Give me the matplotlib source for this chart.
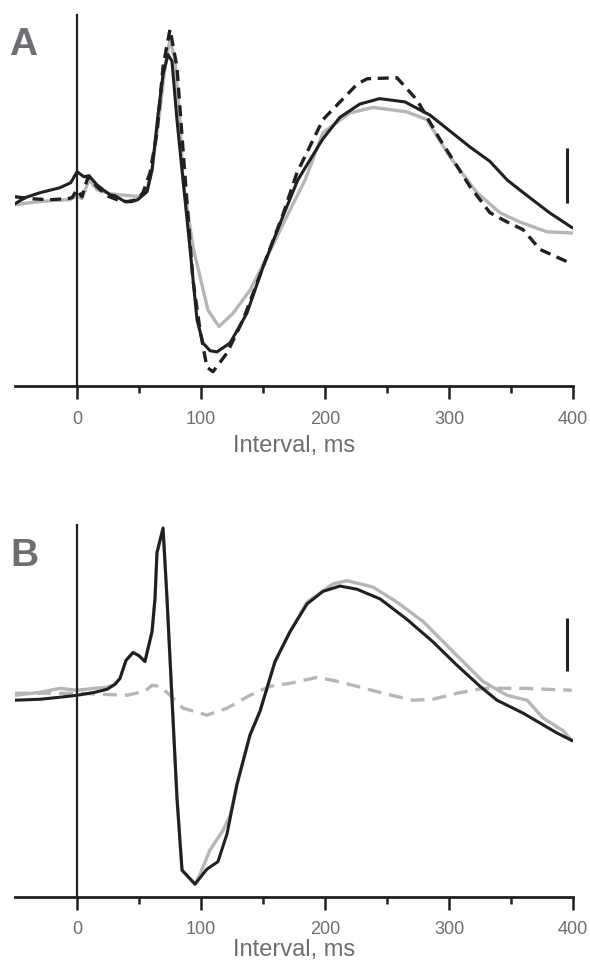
import numpy as np
import matplotlib
matplotlib.use("Agg")
import matplotlib.pyplot as plt

plt.rcParams['font.family'] = ['Liberation Sans', 'DejaVu Sans']

# ---- Panel A data (ms, arbitrary uV) ----
a_solid_x = [-50, -42, -30, -14, -5, 0, 5.6, 9.7, 16, 21, 26.6, 30.6, 38.7, 44, 49, 56.5,
             60.5, 65.3, 69.4, 73.4, 76.6, 80.6, 85.5, 91, 96.8, 101.6, 107.3, 112.9, 123.4,
             137, 150, 166, 178, 198, 212, 228, 244, 264.5, 284.7, 317, 333, 347, 360, 381, 399]
a_solid_y = [-0.55, 0, 0.45, 0.9, 1.36, 2.36, 1.9, 2.0, 1.18, 0.73, 0.27, 0.18, -0.36, -0.36, -0.18, 0.55,
             2.5, 7.5, 11.2, 13.0, 12.4, 7.1, 1.6, -4.45, -11.1, -13.2, -13.9, -14.0, -13.2,
             -10.5, -6.3, -1.7, 1.6, 5.3, 7.3, 8.5, 9.0, 8.7, 7.5, 4.6, 3.3, 1.6, 0.45, -1.36, -2.7]

a_dash_x = [-50, -37.9, -21.8, -8, -4, 0, 4, 8.9, 16.1, 24.2, 32.3, 40.3, 48.4, 53.2, 58.9,
            64.5, 69.4, 75, 80.6, 85.5, 91, 93.5, 99.2, 104.8, 109.7, 121, 133.9, 150, 166,
            177.4, 198.4, 225.8, 233.9, 258, 274, 292.7, 317, 333, 346.8, 359.7, 373.4, 399]
a_dash_y = [0.09, -0.09, -0.18, -0.09, 0, 0.73, 0.09, 1.9, 1.0, 0.18, -0.18, -0.36, -0.18, 0.45, 2.27,
            5.9, 11.9, 15.3, 11.9, 4.36, -3.8, -7.45, -12, -15.4, -15.8, -14.1, -11.1, -6.3, -1.55,
            2.27, 7.1, 10.3, 10.8, 10.9, 8.9, 5.3, 1.0, -1.36, -2.2, -2.9, -4.7, -6.0]

a_grey_x = [-50, -37.9, -21.8, -5.6, 0, 4, 9.7, 16.1, 26.6, 42.7, 50.8, 56.5, 60.5, 66.9,
            71.8, 75, 79, 83, 85.5, 93.5, 105.6, 114.5, 125.8, 139.5, 153.2, 171.8, 183.9,
            198.4, 220, 238.7, 266, 282, 300.8, 322.6, 341, 357, 379, 399]
a_grey_y = [-0.64, -0.45, -0.27, -0.18, 0.18, -0.09, 1.64, 0.73, 0.36, 0.18, 0.09, 0.73, 2.5, 8.0,
            12.5, 14.4, 12.5, 7.1, 1.6, -4.45, -10.2, -11.7, -10.5, -8.4, -5.4, -1.1, 1.6,
            5.9, 7.7, 8.2, 7.8, 7.1, 3.7, 0.45, -1.36, -2.2, -3.1, -3.2]

# ---- Panel B data ----
b_black_x = [-50, -29.8, -13.7, 0, 14.5, 24.2, 30.6, 34.7, 39.5, 45.2, 50, 54.8, 60.5, 62.9,
             64.5, 69.4, 72.6, 76.6, 80.6, 84.7, 95.2, 104.8, 113.7, 121, 129, 139.5, 147.6,
             159.7, 171.8, 185.5, 198.4, 212, 225.8, 244.4, 266, 287, 306.5, 325, 338.7,
             359.7, 387, 399]
b_black_y = [-0.65, -0.56, -0.37, -0.19, 0.09, 0.37, 0.83, 1.39, 3.06, 3.8, 3.5, 2.96, 5.74, 8.8,
             13.1, 15.4, 8.8, -0.46, -9.7, -16.5, -17.8, -16.4, -15.7, -13.1, -8.5, -3.9, -1.67,
             2.96, 5.74, 8.33, 9.5, 10.0, 9.7, 8.8, 6.9, 4.8, 2.6, 0.65, -0.65,
             -1.85, -3.7, -4.4]

b_grey_x = [-50, -29.8, -13.7, 0, 14.5, 24.2, 30.6, 34.7, 39.5, 45.2, 50, 54.8, 60.5, 62.9,
            64.5, 69.4, 72.6, 76.6, 80.6, 84.7, 95.2, 99.2, 107.3, 117.7, 123.4, 129, 139.5,
            147.6, 159.7, 171.8, 185.5, 206.5, 217.7, 238.7, 258, 279, 306.5, 327.4, 346.8,
            363, 375.8, 392, 399]
b_grey_y = [-0.19, 0.09, 0.46, 0.28, 0.46, 0.56, 0.83, 1.39, 3.06, 3.8, 3.5, 2.96, 5.74, 8.8,
            13.1, 15.4, 8.8, -0.46, -9.7, -16.5, -17.8, -16.9, -14.6, -12.8, -11.4, -8.5, -3.9,
            -1.67, 2.96, 5.74, 8.5, 10.2, 10.5, 9.9, 8.5, 6.7, 3.5, 1.1, -0.19,
            -0.65, -2.3, -3.5, -4.4]

b_dash_x = [-50, 0, 40.3, 54.8, 60.5, 66.9, 75, 85.5, 104.8, 121, 139.5, 155.6, 171.8, 193.5,
            206.5, 225.8, 246.8, 271, 287, 306.5, 327.4, 359.7, 399]
b_dash_y = [0, 0, -0.19, 0.19, 0.74, 0.65, -0.19, -1.39, -2.04, -1.39, -0.19, 0.65, 0.93, 1.48,
            1.2, 0.65, 0, -0.65, -0.56, 0, 0.46, 0.46, 0.28]

xticks_major = [0, 100, 200, 300, 400]
xticks_minor = [50, 150, 250, 350]

BLACK = '#231f20'
GREY = '#b5b6b8'
TEXT = '#6d6e71'


def style_axes(ax, ylim, bar, tickpad=9, labelpad=5):
    ax.set_xlim(-50, 400)
    ax.set_ylim(*ylim)
    for s in ['top', 'right']:
        ax.spines[s].set_visible(False)
    ax.spines['left'].set_position(('data', 0))
    ax.spines['left'].set_linewidth(1.6)
    ax.spines['left'].set_color(BLACK)
    ax.spines['bottom'].set_linewidth(2.0)
    ax.spines['bottom'].set_color(BLACK)
    ax.set_yticks([])
    ax.set_xticks(xticks_major)
    ax.set_xticks(xticks_minor, minor=True)
    ax.tick_params(axis='x', which='major', length=9, width=1.8, color=BLACK,
                   labelsize=13, labelcolor=TEXT, pad=tickpad)
    ax.tick_params(axis='x', which='minor', length=5, width=1.8, color=BLACK)
    ax.set_xlabel('Interval, ms', fontsize=17, color=TEXT, labelpad=labelpad)
    # scale bar
    ax.plot([395, 395], bar, color=BLACK, lw=2.2, solid_capstyle='butt')


fig = plt.figure(figsize=(5.9, 9.64), dpi=100)
axA = fig.add_axes([0.0254, 0.5996, 0.9458, 0.3849])
axB = fig.add_axes([0.0254, 0.0695, 0.9458, 0.386])

axA.plot(a_grey_x, a_grey_y, color=GREY, lw=2.4)
axA.plot(a_solid_x, a_solid_y, color=BLACK, lw=2.2)
axA.plot(a_dash_x, a_dash_y, color=BLACK, lw=2.4, linestyle=(0, (3.3, 2.0)))
style_axes(axA, (-17.1, 16.6), [-0.45, 4.55])

axB.plot(b_dash_x, b_dash_y, color=GREY, lw=2.4, linestyle=(0, (4.2, 2.4)))
axB.plot(b_grey_x, b_grey_y, color=GREY, lw=2.4)
axB.plot(b_black_x, b_black_y, color=BLACK, lw=2.2)
style_axes(axB, (-19.0, 15.7), [2.04, 7.04], tickpad=8, labelpad=1)

fig.text(0.039, 0.953, 'A', fontsize=28, fontweight='bold', color=TEXT, ha='center', va='center')
fig.text(0.041, 0.423, 'B', fontsize=28, fontweight='bold', color=TEXT, ha='center', va='center')

fig.savefig('out.png', dpi=100)
